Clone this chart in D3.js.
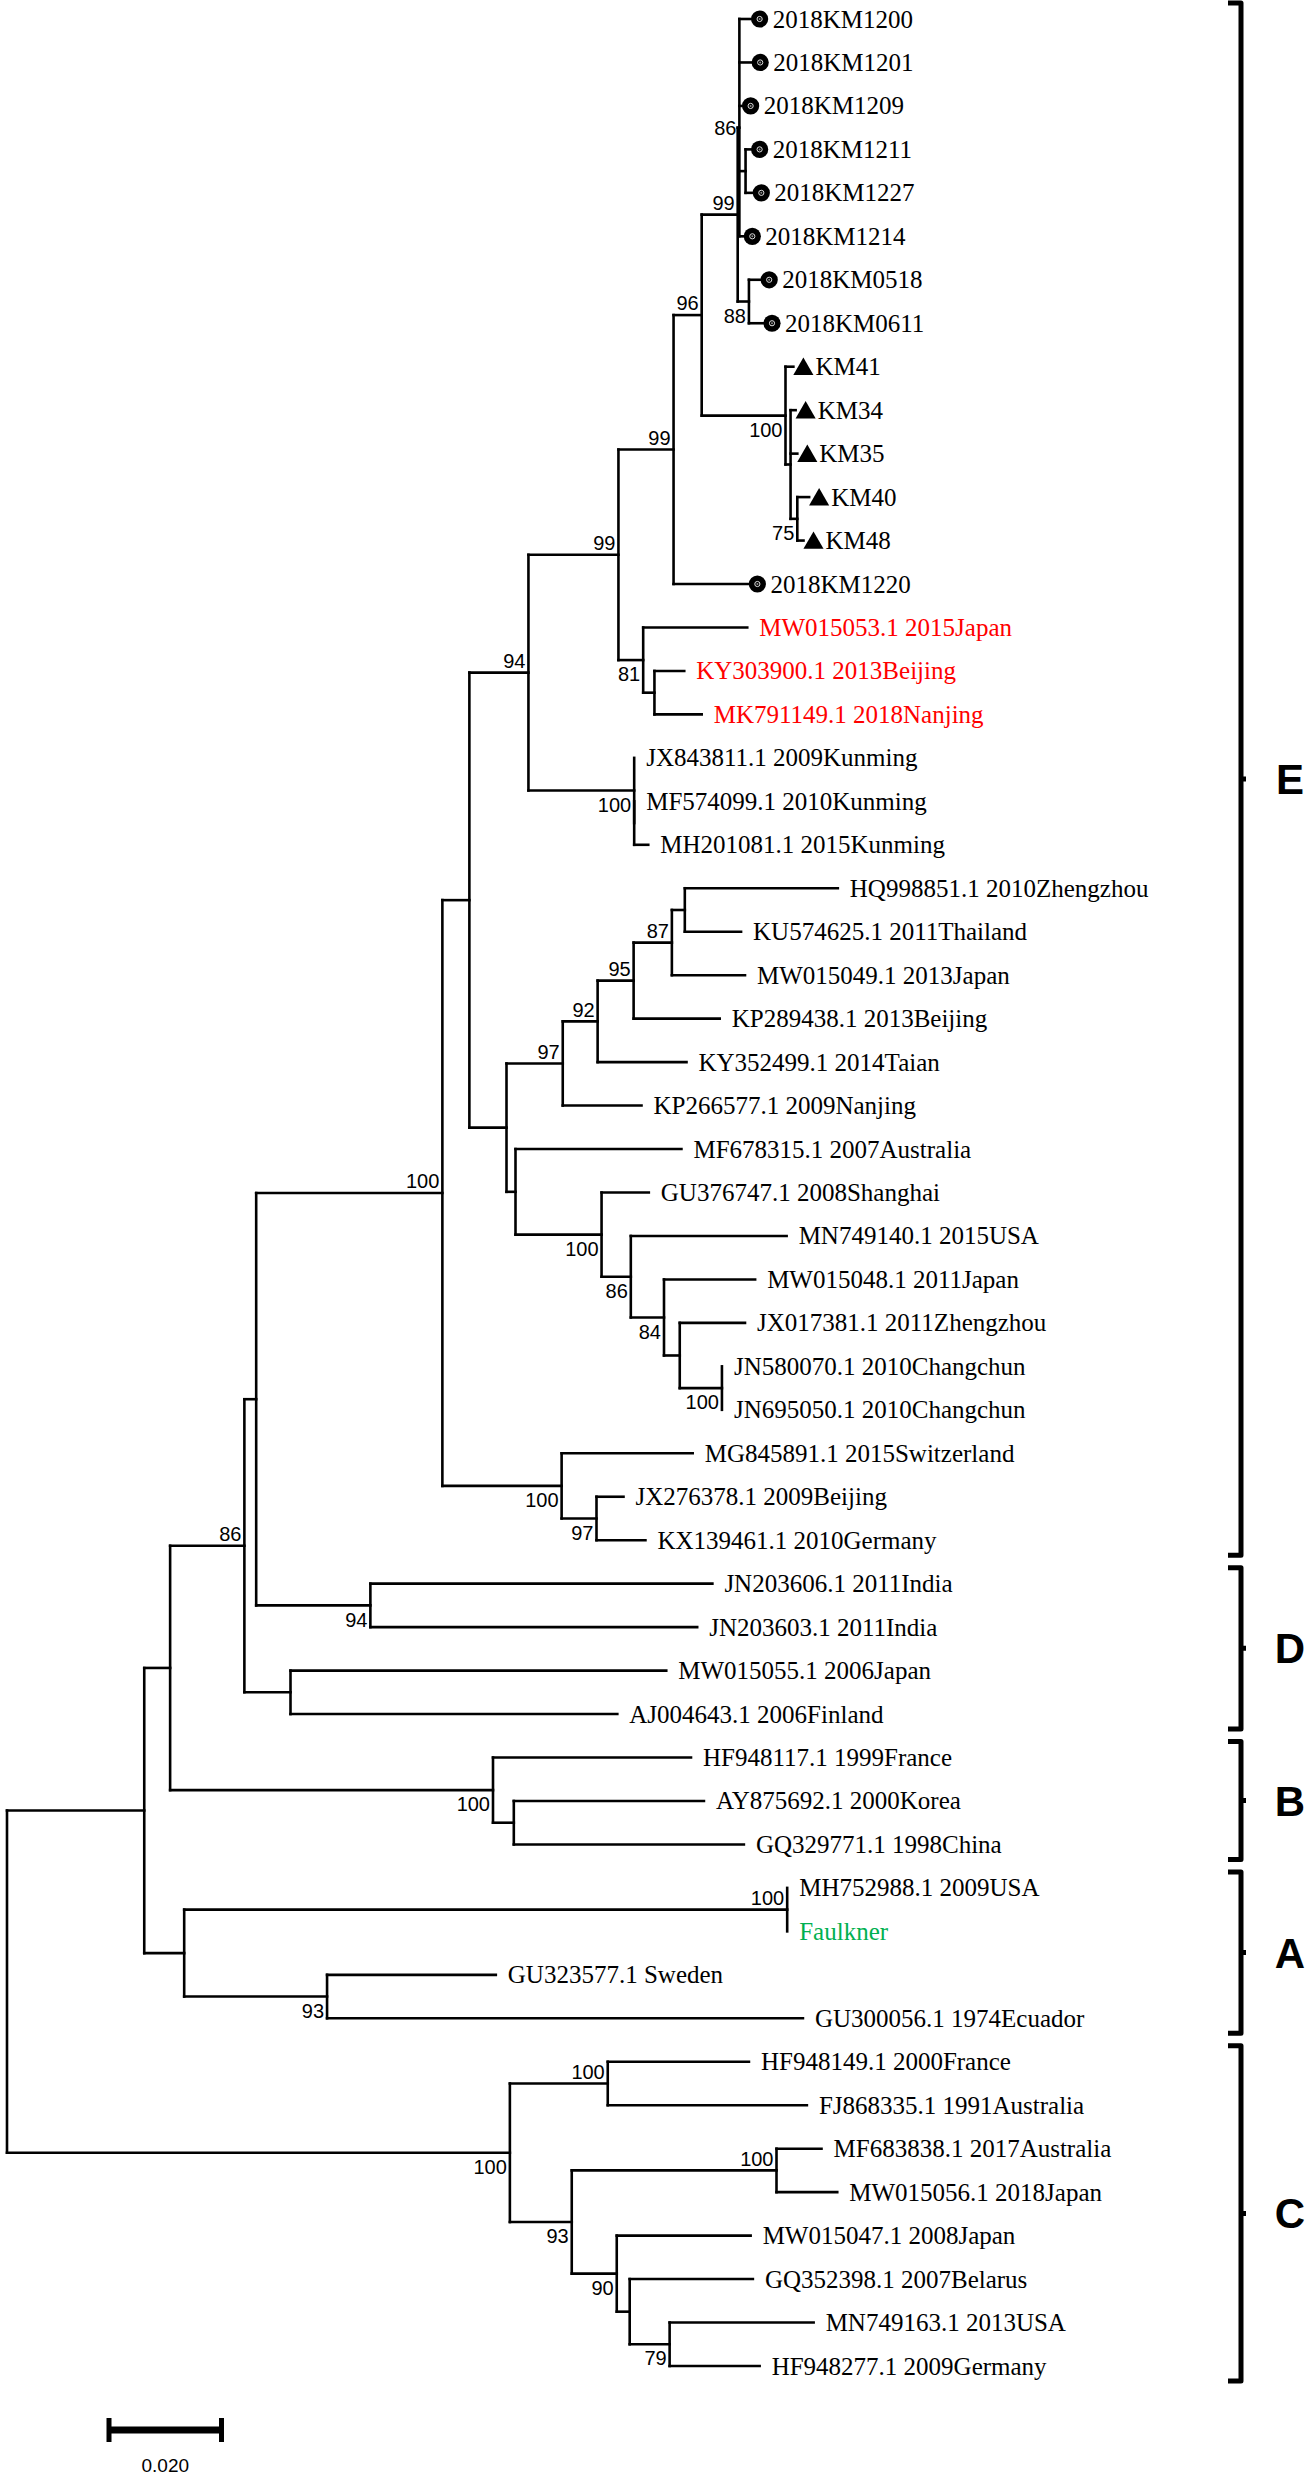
<!DOCTYPE html>
<html><head><meta charset="utf-8">
<script src="https://cdn.jsdelivr.net/npm/d3@7"></script>
<style>body{margin:0;background:#fff} svg{display:block}</style>
</head><body>
<svg id="chart" width="1307" height="2480"></svg>
<script>
// ---------------- DATA ----------------
const leafNames = [
  "2018KM1200","2018KM1201","2018KM1209","2018KM1211","2018KM1227","2018KM1214",
  "2018KM0518","2018KM0611","KM41","KM34","KM35","KM40","KM48","2018KM1220",
  "MW015053.1 2015Japan","KY303900.1 2013Beijing","MK791149.1 2018Nanjing",
  "JX843811.1 2009Kunming","MF574099.1 2010Kunming","MH201081.1 2015Kunming",
  "HQ998851.1 2010Zhengzhou","KU574625.1 2011Thailand","MW015049.1 2013Japan",
  "KP289438.1 2013Beijing","KY352499.1 2014Taian","KP266577.1 2009Nanjing",
  "MF678315.1 2007Australia","GU376747.1 2008Shanghai","MN749140.1 2015USA",
  "MW015048.1 2011Japan","JX017381.1 2011Zhengzhou","JN580070.1 2010Changchun",
  "JN695050.1 2010Changchun","MG845891.1 2015Switzerland","JX276378.1 2009Beijing",
  "KX139461.1 2010Germany","JN203606.1 2011India","JN203603.1 2011India",
  "MW015055.1 2006Japan","AJ004643.1 2006Finland","HF948117.1 1999France",
  "AY875692.1 2000Korea","GQ329771.1 1998China","MH752988.1 2009USA","Faulkner",
  "GU323577.1 Sweden","GU300056.1 1974Ecuador","HF948149.1 2000France",
  "FJ868335.1 1991Australia","MF683838.1 2017Australia","MW015056.1 2018Japan",
  "MW015047.1 2008Japan","GQ352398.1 2007Belarus","MN749163.1 2013USA",
  "HF948277.1 2009Germany"
];

// [child, parent, branch length] in top-to-bottom order
const edges = [
  ["N144","root",0.0244],
  ["N170","N144",0.0046],
  ["N86","N170",0.0132],
  ["W","N86",0.0021],
  ["N442","W",0.0331],
  ["N469","N442",0.0048],
  ["N94","N469",0.0105],
  ["N99b","N94",0.0160],
  ["N99c","N99b",0.0098],
  ["N96","N99c",0.0050],
  ["N99a","N96",0.0064],
  ["N86b","N99a",0.0003],
  ["2018KM1200","N86b",0.0020],
  ["2018KM1201","N86b",0.0021],
  ["2018KM1209","N86b",0.0004],
  ["N1211","N86b",0.0011],
  ["2018KM1211","N1211",0.0009],
  ["2018KM1227","N1211",0.0012],
  ["2018KM1214","N86b",0.0007],
  ["N88","N99a",0.0020],
  ["2018KM0518","N88",0.0020],
  ["2018KM0611","N88",0.0025],
  ["KM100","N96",0.0149],
  ["KM41","KM100",0.0014],
  ["KMn","KM100",0.0009],
  ["KM34","KMn",0.0009],
  ["KM35","KMn",0.0012],
  ["KM75","KMn",0.0012],
  ["KM40","KM75",0.0021],
  ["KM48","KM75",0.0011],
  ["2018KM1220","N99c",0.0133],
  ["N81","N99b",0.0044],
  ["MW015053.1 2015Japan","N81",0.0185],
  ["KYMK","N81",0.0020],
  ["KY303900.1 2013Beijing","KYMK",0.0053],
  ["MK791149.1 2018Nanjing","KYMK",0.0084],
  ["Kun","N94",0.0188],
  ["JX843811.1 2009Kunming","Kun",0],
  ["KunIn","Kun",0],
  ["MF574099.1 2010Kunming","KunIn",0],
  ["MH201081.1 2015Kunming","KunIn",0.0025],
  ["X","N469",0.0066],
  ["N97","X",0.0100],
  ["N92","N97",0.0062],
  ["N95","N92",0.0064],
  ["N87","N95",0.0068],
  ["HQKU","N87",0.0023],
  ["HQ998851.1 2010Zhengzhou","HQKU",0.0272],
  ["KU574625.1 2011Thailand","HQKU",0.0100],
  ["MW015049.1 2013Japan","N87",0.0130],
  ["KP289438.1 2013Beijing","N95",0.0153],
  ["KY352499.1 2014Taian","N92",0.0158],
  ["KP266577.1 2009Nanjing","N97",0.0140],
  ["Y","X",0.0016],
  ["MF678315.1 2007Australia","Y",0.0295],
  ["G100","Y",0.0153],
  ["GU376747.1 2008Shanghai","G100",0.0084],
  ["G86","G100",0.0052],
  ["MN749140.1 2015USA","G86",0.0277],
  ["G84","G86",0.0059],
  ["MW015048.1 2011Japan","G84",0.0162],
  ["JX0","G84",0.0028],
  ["JX017381.1 2011Zhengzhou","JX0",0.0116],
  ["JN100","JX0",0.0075],
  ["JN580070.1 2010Changchun","JN100",0],
  ["JN695050.1 2010Changchun","JN100",0],
  ["Z","N442",0.0212],
  ["MG845891.1 2015Switzerland","Z",0.0233],
  ["Z97","Z",0.0062],
  ["JX276378.1 2009Beijing","Z97",0.0048],
  ["KX139461.1 2010Germany","Z97",0.0087],
  ["D94","W",0.0203],
  ["JN203606.1 2011India","D94",0.0608],
  ["JN203603.1 2011India","D94",0.0581],
  ["N290","N86",0.0082],
  ["MW015055.1 2006Japan","N290",0.0668],
  ["AJ004643.1 2006Finland","N290",0.0581],
  ["B","N170",0.0574],
  ["HF948117.1 1999France","B",0.0352],
  ["B2","B",0.0037],
  ["AY875692.1 2000Korea","B2",0.0338],
  ["GQ329771.1 1998China","B2",0.0409],
  ["A","N144",0.0071],
  ["A100","A",0.1072],
  ["MH752988.1 2009USA","A100",0],
  ["Faulkner","A100",0],
  ["A93","A",0.0254],
  ["GU323577.1 Sweden","A93",0.0300],
  ["GU300056.1 1974Ecuador","A93",0.0846],
  ["C","root",0.0894],
  ["C100a","C",0.0174],
  ["HF948149.1 2000France","C100a",0.0251],
  ["FJ868335.1 1991Australia","C100a",0.0354],
  ["C93","C",0.0110],
  ["C100b","C93",0.0364],
  ["MF683838.1 2017Australia","C100b",0.0080],
  ["MW015056.1 2018Japan","C100b",0.0108],
  ["C90","C93",0.0080],
  ["MW015047.1 2008Japan","C90",0.0238],
  ["C2","C90",0.0023],
  ["GQ352398.1 2007Belarus","C2",0.0219],
  ["C79","C2",0.0071],
  ["MN749163.1 2013USA","C79",0.0256],
  ["HF948277.1 2009Germany","C79",0.0160]
];

const bootNodes  = ["N86b","N99a","N96","N88","KM100","KM75","N99c","N99b","N81","N94","Kun",
                    "N87","N95","N92","N97","G100","G86","G84","JN100","N442","Z","Z97","N86",
                    "D94","B","A100","A93","C100a","C","C93","C100b","C90","C79"];
const bootValues = [86,99,96,88,100,75,99,99,81,94,100,
                    87,95,92,97,100,86,84,100,100,100,97,86,
                    94,100,100,93,100,100,93,100,90,79];

const circleMarked   = ["2018KM1200","2018KM1201","2018KM1209","2018KM1211","2018KM1227",
                        "2018KM1214","2018KM0518","2018KM0611","2018KM1220"];
const triangleMarked = ["KM41","KM34","KM35","KM40","KM48"];
const redLabels   = ["MW015053.1 2015Japan","KY303900.1 2013Beijing","MK791149.1 2018Nanjing"];
const greenLabels = ["Faulkner"];

const cladeNames = ["E","D","B","A","C"];
const cladeFirst = ["2018KM1200","JN203606.1 2011India","HF948117.1 1999France","MH752988.1 2009USA","HF948149.1 2000France"];
const cladeLast  = ["KX139461.1 2010Germany","AJ004643.1 2006Finland","GQ329771.1 1998China","GU300056.1 1974Ecuador","HF948277.1 2009Germany"];

const scaleBarValue = 0.02;
const scaleBarLabel = "0.020";

// ---------------- LAYOUT ----------------
const svg = d3.select("#chart");
svg.append("rect").attr("width",1307).attr("height",2480).attr("fill","#fff");

const rows = [{id:"root", parent:null, len:0}].concat(edges.map(e => ({id:e[0], parent:e[1], len:e[2]})));
const root = d3.stratify().id(d => d.id).parentId(d => d.parent)(rows);

const x = d3.scaleLinear().domain([0, 0.2]).range([7, 1132]);
const y = d3.scalePoint().domain(leafNames).range([19, 2366]);

root.eachBefore(n => { n.dist = n.parent ? n.parent.dist + n.data.len : 0; n.px = x(n.dist); });
root.eachAfter(n => {
  if (!n.children) n.py = y(n.id);
  else n.py = (n.children[0].py + n.children[n.children.length - 1].py) / 2;
});

const nodes = root.descendants();
const gTree = svg.append("g").attr("fill","none").attr("stroke","#000")
  .attr("stroke-width",2.6).attr("stroke-linecap","square");

// horizontal branches
gTree.selectAll("path.h").data(nodes.filter(n => n.parent && n.data.len > 0))
  .join("path").attr("class","h")
  .attr("d", n => `M${n.parent.px},${n.py}H${n.px}`);
// vertical connectors
gTree.selectAll("path.v").data(nodes.filter(n => n.children))
  .join("path").attr("class","v")
  .attr("d", n => `M${n.px},${n.children[0].py}V${n.children[n.children.length-1].py}`);

// markers
const leaves = root.leaves();
const markerOffset = 9, markedTextOffset = 22, textOffset = 12;
const circ = svg.append("g").selectAll("g").data(leaves.filter(l => circleMarked.includes(l.id)))
  .join("g").attr("transform", l => `translate(${l.px + markerOffset},${l.py})`);
circ.append("circle").attr("r",8.6).attr("fill","#000");
circ.append("circle").attr("r",2.6).attr("fill","none").attr("stroke","#ddd").attr("stroke-width",1);
circ.append("circle").attr("r",1).attr("fill","#888");

const tri = d3.symbol(d3.symbolTriangle, 175);
svg.append("g").selectAll("path").data(leaves.filter(l => triangleMarked.includes(l.id)))
  .join("path").attr("d", tri).attr("fill","#000")
  .attr("transform", l => `translate(${l.px + markerOffset + 1},${l.py + 2.5})`);

// leaf labels
svg.append("g").attr("font-family","'Liberation Serif','Times New Roman',serif").attr("font-size",25)
  .selectAll("text").data(leaves).join("text")
  .attr("x", l => l.px + ((circleMarked.includes(l.id) || triangleMarked.includes(l.id)) ? markedTextOffset : textOffset))
  .attr("y", l => l.py).attr("dy","0.34em")
  .attr("fill", l => redLabels.includes(l.id) ? "#ff0000" : greenLabels.includes(l.id) ? "#00b050" : "#000")
  .text(l => l.id);

// bootstrap values
const byId = new Map(nodes.map(n => [n.id, n]));
svg.append("g").attr("font-family","'Liberation Sans',Arial,sans-serif").attr("font-size",20)
  .attr("text-anchor","end")
  .selectAll("text").data(bootNodes.map((id,i) => ({node: byId.get(id), v: bootValues[i]})))
  .join("text")
  .attr("x", d => d.node.px - 3)
  .attr("y", d => {
    const n = d.node;
    if (n.children.length >= 3) return n.py;
    const first = n.parent.children[0] === n;
    return first ? n.py - 12 : n.py + 14;
  })
  .attr("dy","0.36em")
  .text(d => d.v);

// clade brackets
const bx = 1241;
const gC = svg.append("g");
cladeNames.forEach((name, i) => {
  const top = y(cladeFirst[i]) - 16, bot = y(cladeLast[i]) + 15, mid = (top + bot) / 2;
  gC.append("path")
    .attr("d", `M${bx-13},${top}H${bx}V${bot}H${bx-13}M${bx},${mid}H${bx+5}`)
    .attr("fill","none").attr("stroke","#000").attr("stroke-width",5).attr("stroke-linejoin","round");
  gC.append("text").attr("x",1290).attr("y",mid).attr("dy","0.36em")
    .attr("text-anchor","middle").attr("font-family","'Liberation Sans',Arial,sans-serif")
    .attr("font-size",42).attr("font-weight","bold").text(name);
});

// scale bar
const sbX0 = 109, sbY = 2430;
const sbW = x(scaleBarValue) - x(0);
const gS = svg.append("g").attr("stroke","#000").attr("fill","none");
gS.append("path").attr("d", `M${sbX0},${sbY}H${sbX0+sbW}`).attr("stroke-width",7);
gS.append("path").attr("d", `M${sbX0},${sbY-12}V${sbY+12}M${sbX0+sbW},${sbY-12}V${sbY+12}`).attr("stroke-width",5);
svg.append("text").attr("x", sbX0 + sbW/2).attr("y", 2465).attr("dy","0.36em")
  .attr("text-anchor","middle").attr("font-family","'Liberation Sans',Arial,sans-serif")
  .attr("font-size",19).text(scaleBarLabel);
</script>
</body></html>
